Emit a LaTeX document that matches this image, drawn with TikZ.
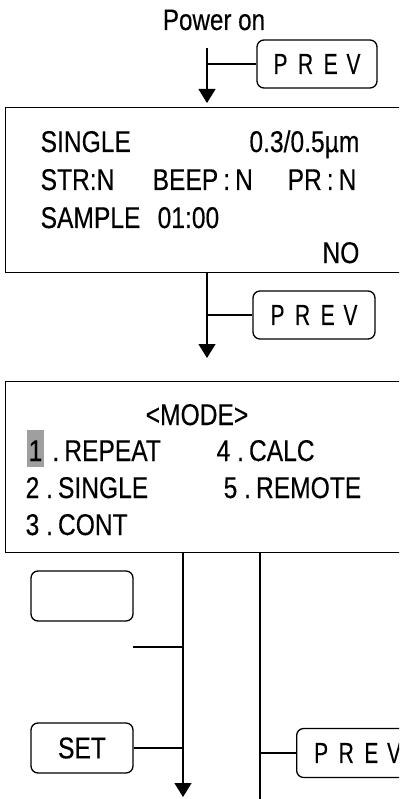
\documentclass[tikz,border=0pt]{standalone}
\usepackage{graphicx}
\usepackage{fontspec}
\setmainfont{Liberation Sans}[FakeStretch=0.82,FakeBold=0.3]
\usepackage{tikz}
\usetikzlibrary{arrows.meta,positioning}

\newcommand{\prevkey}{\scalebox{0.88}[1]{\fontsize{29}{31}\selectfont P\hspace{12pt}R\hspace{12pt}E\hspace{10pt}V}}

\begin{document}
\begin{tikzpicture}[x=1pt,y=-1pt,line width=1.3pt,
    txt/.style={font=\fontsize{30}{32}\selectfont,inner sep=0pt,anchor=base west},
    key/.style={draw,rounded corners=7pt,inner sep=0pt,font=\fontsize{30}{32}\selectfont},
    screen/.style={draw,inner sep=0pt,anchor=north west,minimum width=430pt},
    flow/.style={-{Triangle[width=17pt,length=14pt]}}]
  \useasboundingbox (0,0) rectangle (399,799);
  \clip (0,0) rectangle (399,799);

  \node[txt,anchor=base,font=\fontsize{29.5}{31}\selectfont] (pwr) at (214,30) {Power on};
  \node[key,minimum width=120pt,minimum height=48pt] (prev1) at (317,64) {\prevkey};
  \coordinate (a) at (207,48);

  \node[screen,minimum height=165pt] (disp1) at (5,107) {};
  \node[txt] (single) at (40,152) {SINGLE};
  \node[txt,anchor=base east] (size) at (360,152) {0.3/0.5µm};
  \node[txt] (str) at (40,190) {STR:N};
  \node[txt] (beep) at (152,190) {BEEP\,:\,N};
  \node[txt] (pr) at (287,190) {PR\,:\,N};
  \node[txt] (sample) at (40,228) {SAMPLE};
  \node[txt] (time) at (157,228) {01:00};
  \node[txt,anchor=base east] (no) at (360,263) {NO};

  \draw[flow,shorten >=4pt] (a) -- (a |- disp1.north);
  \draw (prev1.west) -- (prev1.west -| a);

  \node[key,minimum width=122pt,minimum height=48pt] (prev2) at (314,315) {\prevkey};
  \coordinate (b) at (207,272);

  \node[screen,minimum height=171pt] (disp2) at (5,381) {};
  \node[txt,anchor=base] (mode) at (197,425) {<MODE>};
  \node[txt,fill=gray!75,inner xsep=2pt,text height=31pt,text depth=6pt] (one) at (26,461) {1};
  \node[txt] (repeat) at (one.base east) {\ .\,REPEAT};
  \node[txt] (calc) at (216,461) {4 .\,CALC};
  \node[txt] (two) at (25,498) {2 .\,SINGLE};
  \node[txt] (remote) at (223,498) {5 .\,REMOTE};
  \node[txt] (three) at (25,535) {3 .\,CONT};

  \draw[flow,shorten >=23pt] (b) -- (b |- disp2.north);
  \draw (prev2.west) -- (prev2.west -| b);

  % keys below the mode screen
  \coordinate (c) at (183,552);
  \coordinate (d) at (260,552);
  \coordinate (cend) at (183,797);
  \coordinate (dend) at (260,810);
  \coordinate (e) at (133,647);
  \node[key,minimum width=102pt,minimum height=50pt] (blank) at (82,596) {};
  \node[key,minimum width=102pt,minimum height=50pt] (set) at (82,748) {SET};
  \node[key,anchor=west,minimum width=122pt,minimum height=49pt] (prev3) at (296,753) {\prevkey};

  \draw[flow] (c) -- (cend);
  \draw (d) -- (dend);
  \draw (e) -- (e -| c);
  \draw (set.east) -- (set.east -| c);
  \draw (prev3.west) -- (prev3.west -| d);
\end{tikzpicture}
\end{document}
